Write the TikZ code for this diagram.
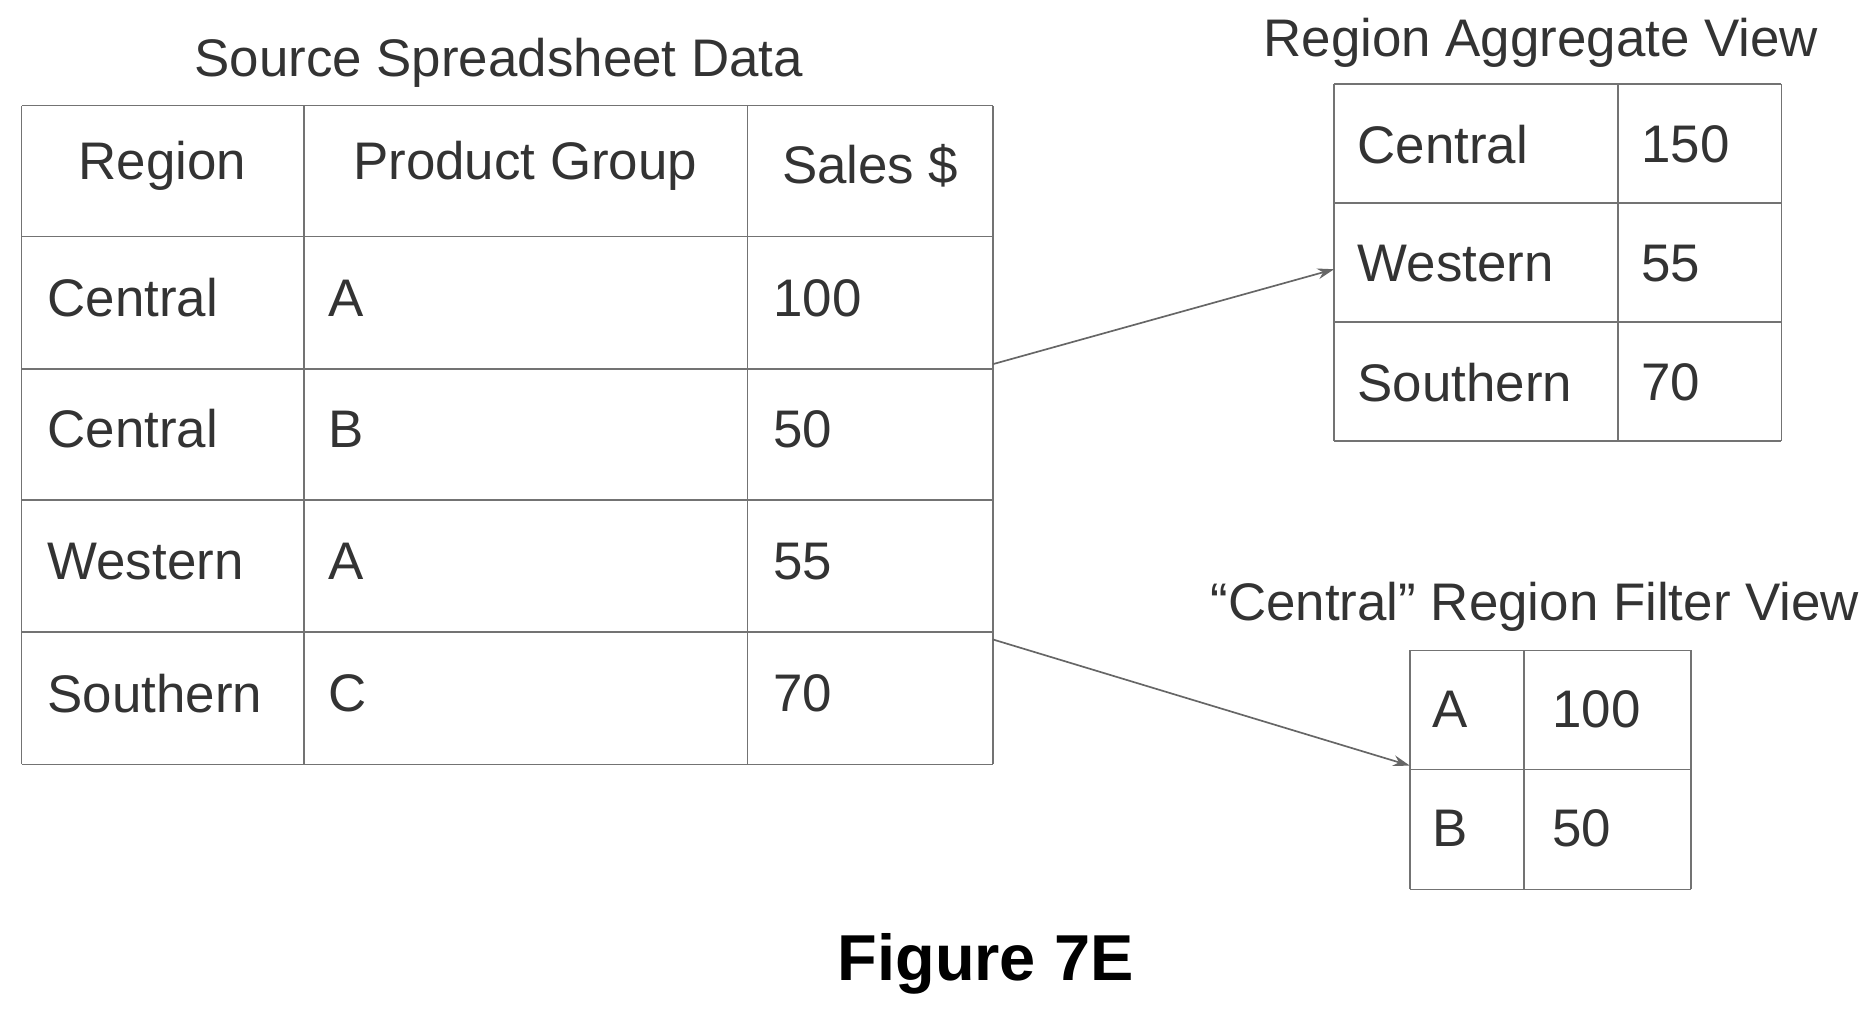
\documentclass[tikz,border=0pt]{standalone}
\usepackage{fontspec}
\setmainfont{Liberation Sans}
\usetikzlibrary{arrows.meta}
\begin{document}
\begin{tikzpicture}[x=1pt,y=-1pt,
  grid/.style={draw=black!55,line width=1.2pt},
  txt/.style={font=\fontsize{44}{48}\selectfont,text=black!80,anchor=west},
  ttl/.style={font=\fontsize{44}{48}\selectfont,text=black!80},
  arr/.style={draw=black!60,line width=1.4pt,-{Stealth[length=14pt,width=9pt]}}]
\useasboundingbox (0,0) rectangle (1560,845);
% main table
\foreach \x in {18,253,622,826} \draw[grid] (\x,88) -- (\x,636);
\foreach \y in {88,197,307,416,526,636} \draw[grid] (18,\y) -- (826,\y);
\node[ttl] (t1) at (415,52) {Source Spreadsheet Data};
\node[txt,anchor=center] (h1) at (135,138) {Region};
\node[txt,anchor=center] (h2) at (437,138) {Product Group};
\node[txt,anchor=center] (h3) at (724,138) {Sales \$};
\foreach \r/\y in {Central/248,Central/357,Western/467,Southern/577} \node[txt] at (36,\y) {\r};
\foreach \r/\y in {A/248,B/357,A/467,C/577} \node[txt] at (270,\y) {\r};
\foreach \r/\y in {100/248,50/357,55/467,70/577} \node[txt] at (640,\y) {\r};
% aggregate
\foreach \x in {1110,1346,1482} \draw[grid] (\x,70) -- (\x,367);
\foreach \y in {70,169,268,367} \draw[grid] (1110,\y) -- (1482,\y);
\node[ttl] (t2) at (1282,36) {Region Aggregate View};
\foreach \r/\v/\y in {Central/150/120,Western/55/219,Southern/70/318}{
  \node[txt] at (1126,\y) {\r}; \node[txt] at (1362,\y) {\v};}
% filter
\foreach \x in {1173,1268,1407} \draw[grid] (\x,541) -- (\x,740);
\foreach \y in {541,640,740} \draw[grid] (1173,\y) -- (1407,\y);
\node[ttl] (t3) at (1277,505) {“Central” Region Filter View};
\foreach \r/\v/\y in {A/100/590,B/50/689}{
  \node[txt] at (1188,\y) {\r}; \node[txt] at (1288,\y) {\v};}
% arrows
\coordinate (s1) at (826,303); \coordinate (e1) at (1110,224);
\coordinate (s2) at (826,532); \coordinate (e2) at (1173,637);
\draw[arr] (s1) -- (e1);
\draw[arr] (s2) -- (e2);
\node[font=\bfseries\fontsize{54}{58}\selectfont] (fig) at (820,802) {Figure 7E};
\end{tikzpicture}
\end{document}
